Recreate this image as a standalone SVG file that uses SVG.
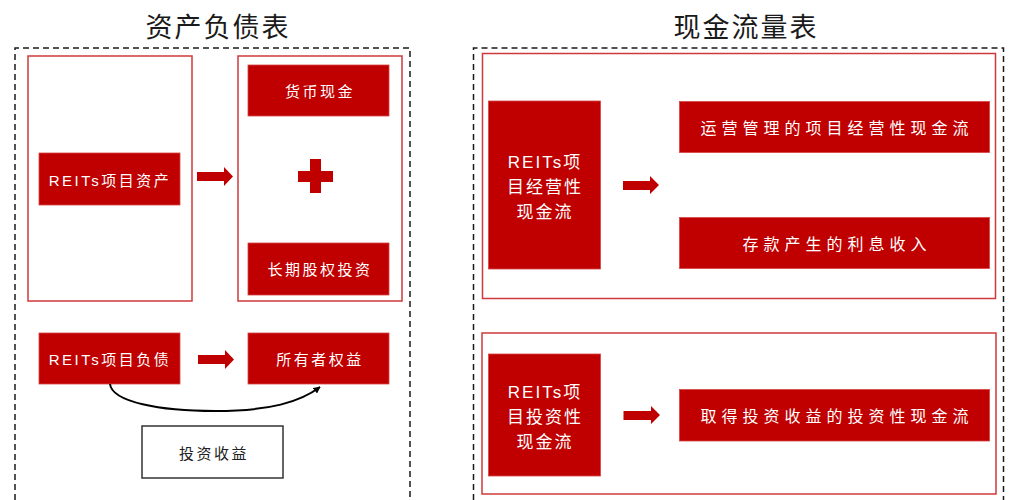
<svg xmlns="http://www.w3.org/2000/svg" width="1025" height="500" viewBox="0 0 1025 500">
<style>
.dash{fill:none;stroke:#1a1a1a;stroke-width:1.5;stroke-dasharray:6 4}
.frame{fill:#fff;stroke:#cf3a3a;stroke-width:1.5}
.box{fill:#c00000;stroke:#d64545;stroke-width:0.8}
.t{font-family:"Liberation Sans","Noto Sans CJK SC",sans-serif;fill:#fff;text-anchor:middle;dominant-baseline:central}
.s{font-size:15px;letter-spacing:2.5px}
.m{font-size:16px;letter-spacing:5px}
.v{font-size:17px;letter-spacing:2px}
.title{font-family:"Noto Sans CJK SC",sans-serif;font-size:27px;letter-spacing:2px;fill:#1a1a1a;text-anchor:middle;dominant-baseline:central}
.barrow{fill:#c00000}
</style>
<defs>
<marker id="ah" viewBox="0 0 10 10" refX="9" refY="5" markerWidth="7" markerHeight="7" orient="auto" markerUnits="userSpaceOnUse">
<path d="M0,0 L10,5 L0,10 Z" fill="#000"/>
</marker>
</defs>
<rect width="1025" height="500" fill="#fff"/>

<g id="balance-sheet">
<text class="title" x="218" y="25">资产负债表</text>
<path class="dash" d="M15,520 V48 H410 V520"/>
<rect class="frame" x="28" y="56" width="164" height="245"/>
<rect class="frame" x="238" y="56" width="164" height="245"/>
</g>

<g id="cashflow">
<text class="title" x="746" y="25">现金流量表</text>
<path class="dash" d="M473.5,520 V48 H1003.5 V520"/>
<rect class="frame" x="482.5" y="53.5" width="513" height="245"/>
<rect class="frame" x="482" y="333" width="514" height="161"/>
</g>

<g id="node-reits-assets">
<rect class="box" x="39" y="153" width="141" height="52"/>
<text class="t s" x="110" y="180">REITs项目资产</text>
</g>
<g id="node-cash">
<rect class="box" x="248" y="65" width="141" height="51"/>
<text class="t s" x="320" y="91">货币现金</text>
</g>
<g id="node-plus">
<rect class="barrow" x="298" y="171" width="35" height="11"/>
<rect class="barrow" x="310" y="159" width="11" height="34"/>
</g>
<g id="node-ltequity">
<rect class="box" x="248" y="243" width="141" height="52"/>
<text class="t s" x="320" y="269">长期股权投资</text>
</g>
<g id="node-reits-liab">
<rect class="box" x="39" y="333" width="141" height="51"/>
<text class="t s" x="110" y="359">REITs项目负债</text>
</g>
<g id="node-owner-equity">
<rect class="box" x="248" y="333" width="141" height="51"/>
<text class="t s" x="320" y="359">所有者权益</text>
</g>
<g id="node-invest-income">
<rect x="142" y="426" width="141" height="52" fill="#fff" stroke="#333" stroke-width="1.5"/>
<text class="t s" x="214" y="453" style="fill:#222">投资收益</text>
</g>

<g id="node-op-cf">
<rect class="box" x="488.5" y="101" width="112" height="168"/>
<text class="t v" x="545" y="162">REITs项</text>
<text class="t v" x="545" y="187">目经营性</text>
<text class="t v" x="545" y="212">现金流</text>
</g>
<g id="node-op-mgmt">
<rect class="box" x="679.5" y="101.5" width="310" height="51"/>
<text class="t m" x="837" y="128">运营管理的项目经营性现金流</text>
</g>
<g id="node-interest">
<rect class="box" x="679.5" y="217.5" width="310" height="51"/>
<text class="t m" x="837" y="244">存款产生的利息收入</text>
</g>
<g id="node-inv-cf">
<rect class="box" x="488.5" y="354" width="112" height="122"/>
<text class="t v" x="545" y="392">REITs项</text>
<text class="t v" x="545" y="417">目投资性</text>
<text class="t v" x="545" y="442">现金流</text>
</g>
<g id="node-inv-income-cf">
<rect class="box" x="679.5" y="389.5" width="310" height="51.5"/>
<text class="t m" x="837" y="416">取得投资收益的投资性现金流</text>
</g>

<g id="connectors">
<path class="barrow" d="M197,172 H224 V167 L233,176.5 L224,186 V181 H197 Z"/>
<path class="barrow" d="M198,355 H225 V350 L234,359.5 L225,369 V364 H198 Z"/>
<path class="barrow" d="M623,181 H650 V176 L659,185 L650,194 V190 H623 Z"/>
<path class="barrow" d="M623.5,411 H651 V406 L660,415 L651,424 V420 H623.5 Z"/>
<path d="M110,384 C112,402 160,411 215,411 C270,411 300,402 320,387" fill="none" stroke="#000" stroke-width="2" marker-end="url(#ah)"/>
</g>
</svg>
